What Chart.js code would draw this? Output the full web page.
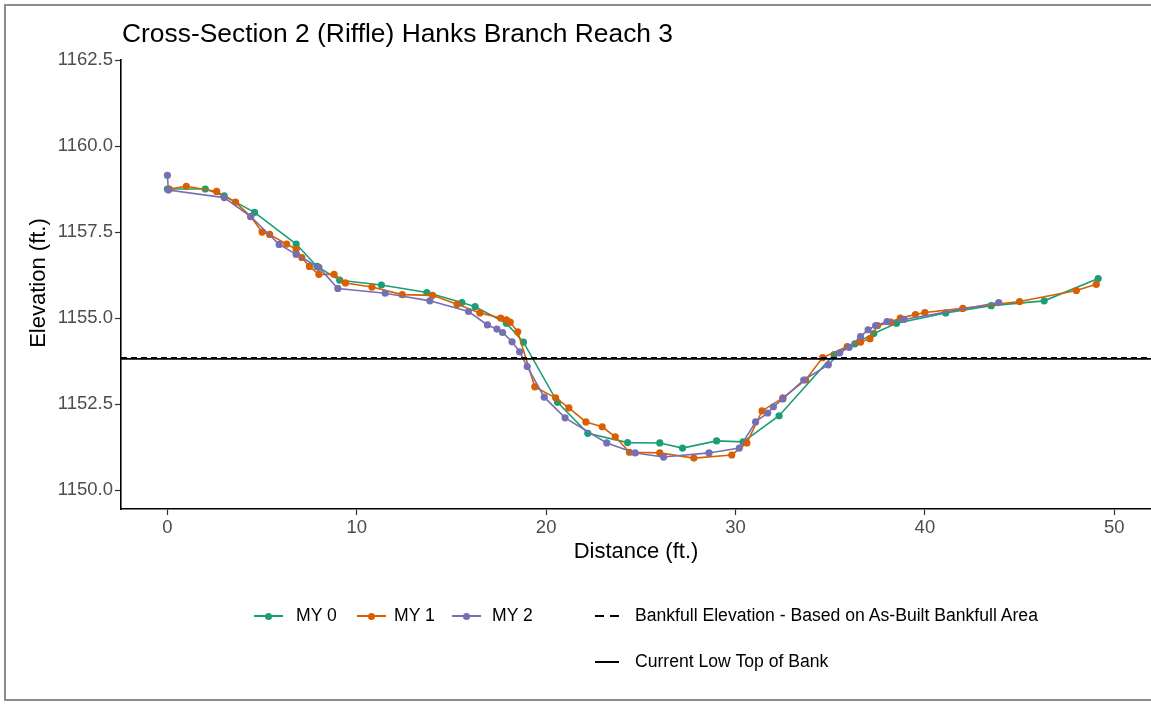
<!DOCTYPE html>
<html>
<head>
<meta charset="utf-8">
<title>Cross-Section 2 (Riffle) Hanks Branch Reach 3</title>
<script src="https://cdn.jsdelivr.net/npm/chart.js@4.4.1/dist/chart.umd.min.js"></script>
<style>
  html, body { margin:0; padding:0; background:#fff; }
  #wrap { position:relative; width:1151px; height:704px; overflow:hidden; background:#fff;
          font-family:"Liberation Sans", Arial, Helvetica, sans-serif; }
  #frame { position:absolute; left:4px; top:4px; width:1200px; height:697px;
           border:2px solid #8c8c8c; box-sizing:border-box; }
  #chart { position:absolute; left:0; top:0; }
  .txt { position:absolute; white-space:nowrap; color:#000; }
  #title { left:122px; top:19.6px; font-size:26.4px; line-height:26.4px; }
  #xlab { left:121px; width:1030px; top:540.4px; font-size:22px; line-height:22px; text-align:center; }
  #ylab { left:-162px; width:400px; top:272px; font-size:22px; line-height:22px; text-align:center;
          transform:rotate(-90deg); }
  .leg { font-size:17.6px; line-height:17.6px; }
  .sym { position:absolute; }
</style>
</head>
<body>
<div id="wrap">
  <div id="frame"></div>
  <!-- canvas runs a few px past the right edge so the panel reaches the border -->
  <canvas id="chart" width="1155" height="704"></canvas>
  <div class="txt" id="title">Cross-Section 2 (Riffle) Hanks Branch Reach 3</div>
  <div class="txt" id="xlab">Distance (ft.)</div>
  <div class="txt" id="ylab">Elevation (ft.)</div>
  <div id="legend"></div>
</div>
<script>
// survey series: distance along section (ft) and ground elevation (ft)
const my0Dist = [0, 2.0, 3.0, 4.6, 6.8, 7.9, 9.1, 11.3, 13.7, 15.55, 16.25, 17.9, 18.8, 20.6, 22.2, 24.3, 26.0, 27.2, 29.0, 30.4, 32.3, 35.2, 36.3, 37.3, 38.5, 41.1, 43.5, 46.3, 49.15];
const my0Elev = [1158.75, 1158.75, 1158.55, 1158.07, 1157.15, 1156.5, 1156.1, 1155.96, 1155.74, 1155.45, 1155.33, 1154.85, 1154.3, 1152.55, 1151.65, 1151.38, 1151.37, 1151.22, 1151.43, 1151.4, 1152.16, 1153.94, 1154.25, 1154.55, 1154.85, 1155.15, 1155.36, 1155.5, 1156.15];

const my1Dist = [0.1, 1.0, 2.6, 3.6, 4.4, 5.0, 5.4, 6.3, 6.8, 7.1, 7.5, 8.0, 8.8, 9.4, 10.8, 12.4, 14.0, 15.3, 16.5, 17.6, 17.9, 18.1, 18.5, 19.4, 20.5, 21.2, 22.1, 22.96, 23.65, 24.4, 26.0, 27.8, 29.8, 30.6, 31.4, 32.5, 33.7, 34.6, 35.9, 36.6, 37.1, 37.5, 38.2, 38.7, 39.5, 40.0, 42.0, 45.0, 48.0, 49.05];
const my1Elev = [1158.75, 1158.83, 1158.68, 1158.37, 1157.95, 1157.5, 1157.43, 1157.15, 1157.0, 1156.76, 1156.5, 1156.27, 1156.27, 1156.02, 1155.9, 1155.68, 1155.66, 1155.4, 1155.15, 1155.0, 1154.95, 1154.88, 1154.6, 1153.0, 1152.68, 1152.39, 1151.98, 1151.84, 1151.55, 1151.1, 1151.08, 1150.93, 1151.02, 1151.37, 1152.3, 1152.68, 1153.2, 1153.85, 1154.17, 1154.3, 1154.4, 1154.78, 1154.88, 1155.0, 1155.1, 1155.16, 1155.28, 1155.48, 1155.8, 1155.98];

const my2Dist = [0, 0.05, 3.0, 4.4, 5.9, 6.8, 8.0, 9.0, 11.5, 13.86, 15.9, 16.9, 17.4, 17.7, 18.2, 18.6, 19.0, 19.9, 21.0, 23.2, 24.7, 26.2, 28.6, 30.2, 31.06, 31.7, 32.0, 32.5, 33.6, 34.9, 35.5, 36.0, 36.6, 37.0, 37.4, 38.0, 38.9, 43.9];
const my2Elev = [1159.15, 1158.72, 1158.5, 1157.95, 1157.14, 1156.85, 1156.47, 1155.86, 1155.72, 1155.5, 1155.19, 1154.8, 1154.68, 1154.58, 1154.31, 1154.02, 1153.59, 1152.7, 1152.1, 1151.37, 1151.08, 1150.96, 1151.08, 1151.22, 1151.98, 1152.24, 1152.42, 1152.65, 1153.2, 1153.64, 1153.99, 1154.15, 1154.46, 1154.66, 1154.78, 1154.9, 1154.96, 1155.45];

// reference elevations drawn across the whole panel
const bankfullElev = 1153.845;
const lowTopBankElev = 1153.815;

const xTickVals = [0, 10, 20, 30, 40, 50];
const yTickVals = [1150, 1152.5, 1155, 1157.5, 1160, 1162.5];
const xMin = -2.45, xMax = 51.96;
const yMin = 1149.45, yMax = 1162.5;

const seriesNames = ['MY 0', 'MY 1', 'MY 2'];
const seriesColors = ['#1B9E77', '#D95F02', '#7570B3'];
const refNames = ['Bankfull Elevation - Based on As-Built Bankfull Area', 'Current Low Top of Bank'];

const FONT = '"Liberation Sans", Arial, Helvetica, sans-serif';

function pts(xs, ys){ return xs.map((x,i)=>({ x, y: ys[i] })); }

function series(i, xs, ys){
  return {
    label: seriesNames[i], data: pts(xs, ys), showLine: true,
    borderColor: seriesColors[i], backgroundColor: seriesColors[i],
    borderWidth: 1.6, pointRadius: 3.6, pointBorderWidth: 0, pointHoverRadius: 3.6,
    order: 5 - i,
  };
}

function refLine(label, y, dash, order){
  return {
    label, data: [{ x: xMin, y }, { x: xMax, y }], showLine: true,
    borderColor: '#000', borderWidth: 1.8, borderDash: dash, pointRadius: 0, order,
  };
}

function axis(min, max, vals, fmt, fit){
  return {
    type: 'linear', min, max,
    afterBuildTicks: s => { s.ticks = vals.map(v => ({ value: v })); },
    afterFit: fit,
    ticks: { color: '#4d4d4d', font: { family: FONT, size: 18.5 }, padding: 2,
             autoSkip: false, maxRotation: 0, callback: fmt },
    grid: { drawOnChartArea: false, drawTicks: true, tickLength: 6, tickColor: '#333', tickWidth: 1.2 },
    border: { display: true, color: '#000', width: 1.6 },
  };
}

new Chart(document.getElementById('chart'), {
  type: 'scatter',
  data: {
    datasets: [
      series(0, my0Dist, my0Elev),
      series(1, my1Dist, my1Elev),
      series(2, my2Dist, my2Elev),
      refLine(refNames[1], lowTopBankElev, [], 2),
      refLine(refNames[0], bankfullElev, [6, 4], 1),
    ]
  },
  options: {
    responsive: false, animation: false, devicePixelRatio: 1,
    layout: { padding: { left: 0, right: 0, top: 60, bottom: 155 } },
    plugins: { legend: { display: false }, tooltip: { enabled: false }, title: { display: false } },
    scales: {
      x: axis(xMin, xMax, xTickVals, v => String(v), s => { s.height = 40; }),
      y: axis(yMin, yMax, yTickVals, v => v.toFixed(1), s => { s.width = 121; }),
    }
  }
});

// legend: two rows under the plot
function legendItems(){
  const leg = document.getElementById('legend');
  const add = (html) => leg.insertAdjacentHTML('beforeend', html);
  const rowY = [616, 662];
  const symX = [254, 357, 452];
  const txtX = [296, 394, 492];
  seriesNames.forEach((name, i) => {
    const c = seriesColors[i];
    add(`<div class="sym" style="left:${symX[i]}px;top:${rowY[0]-0.8}px;width:29px;height:1.6px;background:${c}"></div>`);
    add(`<div class="sym" style="left:${symX[i]+11}px;top:${rowY[0]-3.5}px;width:7px;height:7px;border-radius:50%;background:${c}"></div>`);
    add(`<div class="txt leg" style="left:${txtX[i]}px;top:${rowY[0]-9}px">${name}</div>`);
  });
  add(`<div class="sym" style="left:595px;top:${rowY[0]-0.8}px;width:9px;height:1.6px;background:#000"></div>`);
  add(`<div class="sym" style="left:610px;top:${rowY[0]-0.8}px;width:9px;height:1.6px;background:#000"></div>`);
  add(`<div class="txt leg" style="left:635px;top:${rowY[0]-9}px">${refNames[0]}</div>`);
  add(`<div class="sym" style="left:595px;top:${rowY[1]-0.8}px;width:24px;height:1.6px;background:#000"></div>`);
  add(`<div class="txt leg" style="left:635px;top:${rowY[1]-9}px">${refNames[1]}</div>`);
}
legendItems();
</script>
</body>
</html>
